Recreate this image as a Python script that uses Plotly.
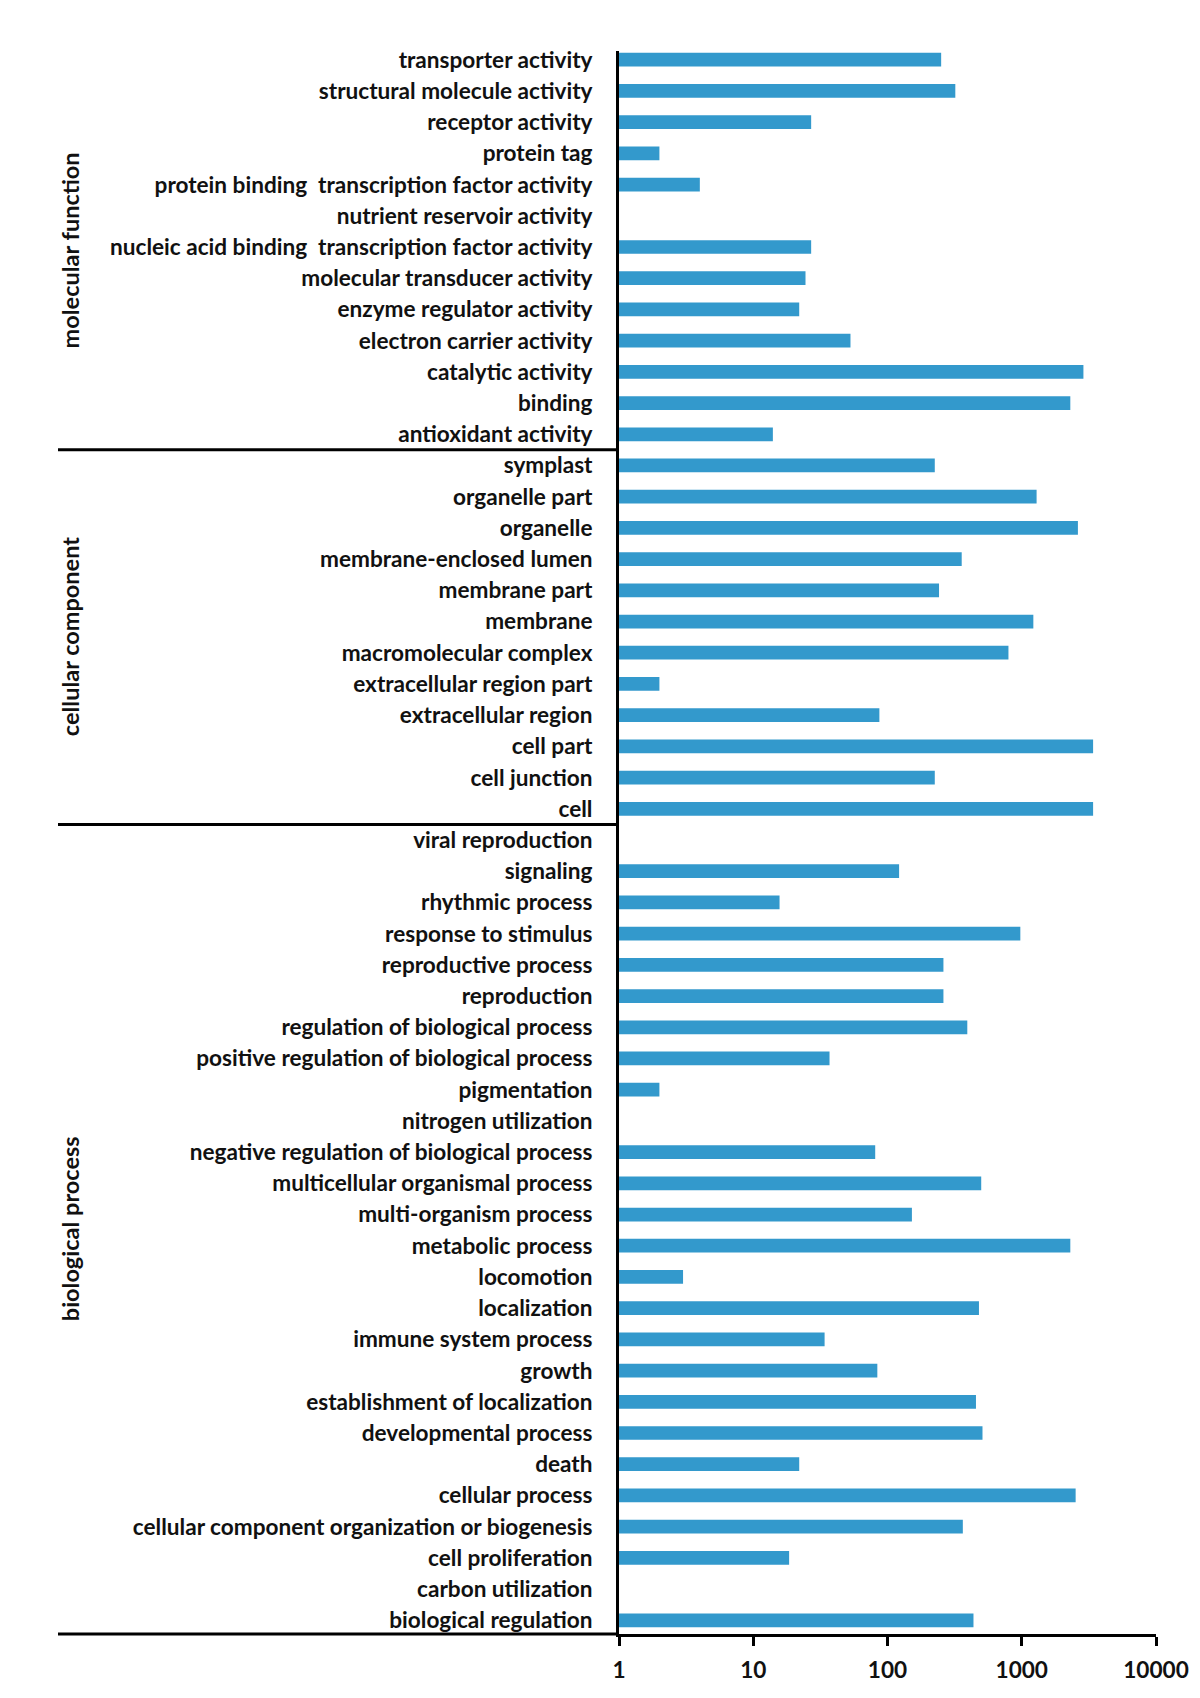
import plotly.graph_objects as go

mf_terms = ["transporter activity", "structural molecule activity", "receptor activity", "protein tag",
            "protein binding  transcription factor activity", "nutrient reservoir activity",
            "nucleic acid binding  transcription factor activity", "molecular transducer activity",
            "enzyme regulator activity", "electron carrier activity", "catalytic activity", "binding",
            "antioxidant activity"]
mf_vals = [251, 320, 27, 2, 4, None, 27, 24.5, 22, 53, 2880, 2300, 14]

cc_terms = ["symplast", "organelle part", "organelle", "membrane-enclosed lumen", "membrane part", "membrane",
            "macromolecular complex", "extracellular region part", "extracellular region", "cell part",
            "cell junction", "cell"]
cc_vals = [225, 1290, 2620, 357, 242, 1220, 796, 2, 87, 3400, 225, 3400]

bp_terms = ["viral reproduction", "signaling", "rhythmic process", "response to stimulus", "reproductive process",
            "reproduction", "regulation of biological process", "positive regulation of biological process",
            "pigmentation", "nitrogen utilization", "negative regulation of biological process",
            "multicellular organismal process", "multi-organism process", "metabolic process", "locomotion",
            "localization", "immune system process", "growth", "establishment of localization",
            "developmental process", "death", "cellular process",
            "cellular component organization or biogenesis", "cell proliferation", "carbon utilization",
            "biological regulation"]
bp_vals = [None, 122, 15.7, 976, 261, 261, 393, 37, 2, None, 81, 499, 152, 2300, 3, 480, 34, 84, 456, 510,
           22, 2520, 364, 18.5, None, 437]

group_names = ["molecular function", "cellular component", "biological process"]
x_tick_vals = [1, 10, 100, 1000, 10000]
x_tick_text = ["1", "10", "100", "1000", "10000"]

terms = mf_terms + cc_terms + bp_terms
vals = mf_vals + cc_vals + bp_vals
n = len(terms)

FONT = "Lato"
FS = 22.6
FW = "bold"
TXT = "#111111"
BAR = "#3399cc"

fig = go.Figure(go.Bar(
    x=vals, y=terms, orientation="h",
    marker=dict(color=BAR, line=dict(width=0)),
    width=0.44,
))

W, H = 1200, 1698
L, R, T, B = 611, 52, 43, 72
plot_w = W - L - R

fig.update_layout(
    width=W, height=H,
    margin=dict(l=L, r=R, t=T, b=B),
    paper_bgcolor="white", plot_bgcolor="white",
    font=dict(family=FONT, size=FS, color=TXT, weight=FW),
    showlegend=False,
    xaxis=dict(type="log", range=[0, 4], tickvals=x_tick_vals, ticktext=x_tick_text,
               showline=True, linecolor="black", linewidth=3, ticks="outside", ticklen=9,
               tickwidth=3, tickcolor="black", showgrid=False, zeroline=False,
               ticklabelstandoff=5,
               tickfont=dict(family=FONT, size=FS, color=TXT, weight=FW)),
    yaxis=dict(type="category", categoryorder="array", categoryarray=terms,
               range=[n - 1 + 0.44, -0.28], showline=True, linecolor="black", linewidth=3,
               ticks="", showgrid=False, zeroline=False, ticklabelstandoff=19,
               tickfont=dict(family=FONT, size=FS, color=TXT, weight=FW)),
)

x_left = (50 - L) / plot_w
shapes = [dict(type="line", xref="paper", yref="paper", x0=x_left, x1=0, y0=0, y1=0,
               line=dict(color="black", width=3))]
sep_positions = [len(mf_terms) - 0.5, len(mf_terms) + len(cc_terms) - 0.5]
for s in sep_positions:
    shapes.append(dict(type="line", xref="paper", yref="y", x0=x_left, x1=0, y0=s, y1=s,
                       line=dict(color="black", width=3)))
fig.update_layout(shapes=shapes)

bounds = [-0.28, sep_positions[0], sep_positions[1], n - 1 + 0.44]
lab_x = (62 - L) / plot_w
for i, g in enumerate(group_names):
    yc = (bounds[i] + bounds[i + 1]) / 2
    fig.add_annotation(text=g, x=lab_x, y=yc, xref="paper", yref="y", textangle=-90,
                       xanchor="center", yanchor="middle", showarrow=False,
                       font=dict(family=FONT, size=23.5, color=TXT, weight=FW))

fig.write_html("out.html")
